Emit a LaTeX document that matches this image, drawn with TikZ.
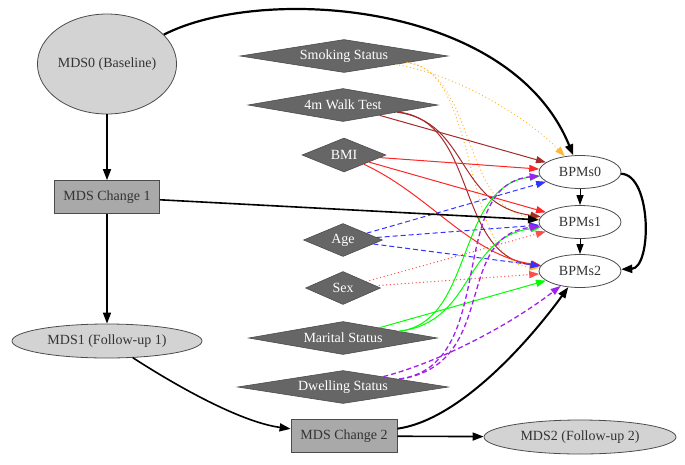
\documentclass[tikz,border=0pt]{standalone}
\usepackage{fontspec}
\setmainfont{Liberation Serif}
\usetikzlibrary{shapes.geometric,arrows.meta}
\definecolor{ltgray}{HTML}{D3D3D3}
\definecolor{dkgray}{HTML}{A9A9A9}
\definecolor{dimgr}{HTML}{666666}
\definecolor{gvbrown}{HTML}{A52A2A}
\definecolor{gvorange}{HTML}{FFA500}
\definecolor{gvgreen}{HTML}{00FF00}
\definecolor{gvpurple}{HTML}{A020F0}
\begin{document}
\begin{tikzpicture}[x=1pt, y=-1pt,
    font=\rmfamily\fontsize{14}{16}\selectfont,
    Ov/.style={ellipse, draw=black!70, line width=0.8pt, fill=ltgray, text=black!80, inner sep=0pt},
    Bx/.style={rectangle, draw=black!70, line width=0.8pt, fill=dkgray, text=black!80, minimum width=106pt, minimum height=33pt},
    Dm/.style={diamond, draw=black!70, line width=0.6pt, fill=dimgr, text=white, inner sep=0pt, minimum height=33pt},
    eMain/.style={draw=black, line width=1.6pt, -{Triangle[length=11pt,width=8pt]}},
    eThin/.style={draw=black, line width=1pt, -{Triangle[length=10pt,width=7pt]}},
    eCov/.style={line width=1pt, -{Triangle[length=10pt,width=7pt]}},
    eSmk/.style={eCov, draw=gvorange!80, line width=1.3pt, line cap=round, dash pattern=on 0.1pt off 3.6pt},
    eWalk/.style={eCov, draw=gvbrown},
    eBmi/.style={eCov, draw=red!85},
    eAge/.style={eCov, draw=blue!80, dash pattern=on 5pt off 3pt},
    eSex/.style={eCov, draw=red!70, line width=1.3pt, line cap=round, dash pattern=on 0.1pt off 3.6pt},
    eMar/.style={eCov, draw=gvgreen},
    eDwl/.style={eCov, draw=gvpurple, line width=1.3pt, dash pattern=on 5pt off 3pt}
  ]
  \useasboundingbox (0,0) rectangle (685,464);

  % MDS time line
  \node [Ov, minimum width=120pt, minimum height=100pt] (mds0) at (107,64) {MDS0 (Baseline)};
  \node [Bx, minimum width=105pt] (chg1) at (107,197) {MDS Change 1};
  \node [Ov, minimum width=190pt, minimum height=34pt] (mds1) at (107,341) {MDS1 (Follow-up 1)};
  \node [Bx] (chg2) at (344,436) {MDS Change 2};
  \node [Ov, minimum width=192pt, minimum height=34pt] (mds2) at (580,437) {MDS2 (Follow-up 2)};

  % outcomes
  \node [Ov, fill=white, minimum width=82pt, minimum height=33pt] (bpm0) at (580,172) {BPMs0};
  \node [Ov, fill=white, minimum width=82pt, minimum height=33pt] (bpm1) at (580,222) {BPMs1};
  \node [Ov, fill=white, minimum width=82pt, minimum height=33pt] (bpm2) at (580,271) {BPMs2};

  % covariates
  \node [Dm, minimum width=208pt, shape aspect=6.3] (smoke) at (344,56) {Smoking Status};
  \node [Dm, minimum width=190pt, shape aspect=5.8] (walk) at (343,105) {4m Walk Test};
  \node [Dm, minimum width=84pt, minimum height=34pt, shape aspect=2.5] (bmi) at (344,155) {BMI};
  \node [Dm, minimum width=79pt, shape aspect=2.4] (age) at (343,240) {Age};
  \node [Dm, minimum width=75pt, shape aspect=2.3] (sex) at (343,288) {Sex};
  \node [Dm, minimum width=189pt, shape aspect=5.7] (marital) at (343,338) {Marital Status};
  \node [Dm, minimum width=211pt, shape aspect=6.4] (dwell) at (343,387) {Dwelling Status};

  % covariate edges
  \draw [eSmk] (smoke) .. controls (460,75) and (530,120) .. (bpm0);
  \draw [eSmk] (smoke) .. controls (475,70) and (462,210) .. (bpm1);
  \draw [eSmk] (smoke) .. controls (480,70) and (462,262) .. (bpm2);
  \draw [eWalk] (walk) -- (bpm0);
  \draw [eWalk] (walk) .. controls (470,122) and (455,205) .. (bpm1);
  \draw [eWalk] (walk) .. controls (478,122) and (455,255) .. (bpm2);
  \draw [eBmi] (bmi) -- (bpm0);
  \draw [eBmi] (bmi) -- (bpm1);
  \draw [eBmi] (bmi) .. controls (430,195) and (470,255) .. (bpm2);
  \draw [eAge] (age) -- (bpm0);
  \draw [eAge] (age) -- (bpm1);
  \draw [eAge] (age) -- (bpm2);
  \draw [eSex] (sex) -- (bpm1);
  \draw [eSex] (sex) -- (bpm2);
  \draw [eMar] (marital) -- (bpm2);
  \draw [eMar] (marital) .. controls (475,322) and (455,185) .. (bpm0);
  \draw [eMar] (marital) .. controls (475,322) and (462,238) .. (bpm1);
  \draw [eDwl] (dwell) .. controls (440,362) and (510,325) .. (bpm2);
  \draw [eDwl] (dwell) .. controls (500,365) and (445,185) .. (bpm0);
  \draw [eDwl] (dwell) .. controls (500,365) and (452,236) .. (bpm1);

  % MDS edges
  \draw [eMain] (mds0) -- (chg1);
  \draw [eMain] (chg1) -- (mds1);
  \draw [eMain] (mds1) .. controls (175,385) and (240,422) .. (chg2);
  \draw [eMain] (chg2) -- (mds2);
  \draw [eMain, line width=2.2pt] (mds0) .. controls (260,-15) and (510,0) .. (bpm0);
  \draw [eMain] (chg1) -- (bpm1);
  \draw [eMain, line width=2pt] (chg2) .. controls (460,420) and (530,340) .. (bpm2);
  \draw [eThin] (bpm0) -- (bpm1);
  \draw [eThin] (bpm1) -- (bpm2);
  \draw [eMain, line width=2.2pt] (bpm0) .. controls (652,175) and (652,268) .. (bpm2);
\end{tikzpicture}
\end{document}
